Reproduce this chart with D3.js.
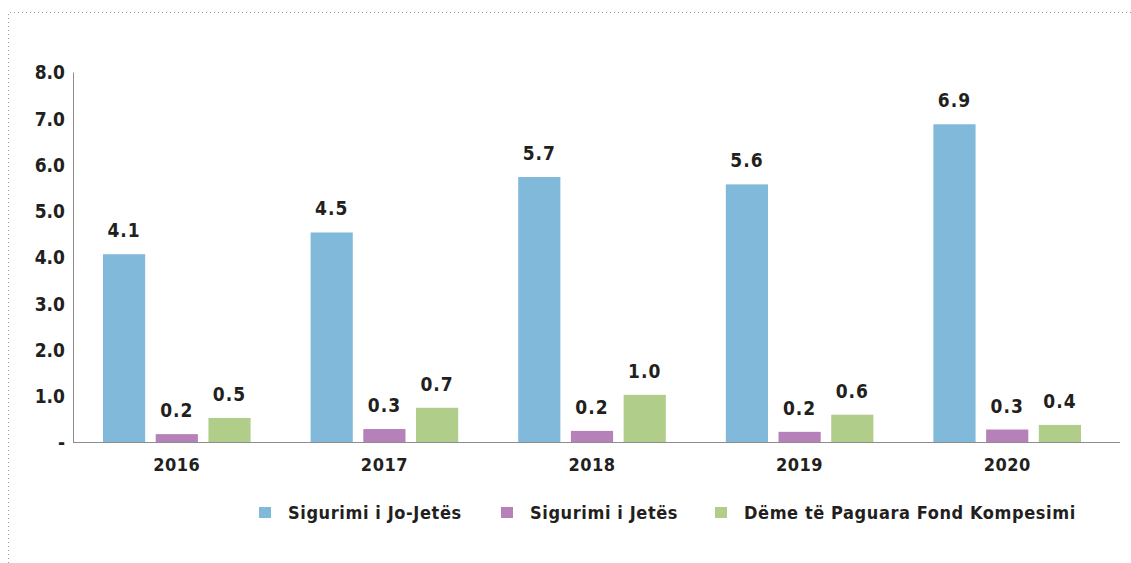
<!DOCTYPE html>
<html>
<head>
<meta charset="utf-8">
<script src="https://cdn.jsdelivr.net/npm/d3@7"></script>
<style>
  body { margin: 0; background: #fff; }
  text { font-family: "DejaVu Sans Condensed", "DejaVu Sans", sans-serif; font-weight: bold; fill: #231f20; }
</style>
</head>
<body>
<div id="chart"></div>
<script>
const years = ["2016", "2017", "2018", "2019", "2020"];
const seriesNames = ["Sigurimi i Jo-Jetës", "Sigurimi i Jetës", "Dëme të Paguara Fond Kompesimi"];
const nonLife = [4.06, 4.53, 5.73, 5.57, 6.87];
const life = [0.17, 0.28, 0.24, 0.22, 0.27];
const compensation = [0.52, 0.74, 1.02, 0.59, 0.37];
const yTicks = [0, 1, 2, 3, 4, 5, 6, 7, 8];
const colors = ["#80b9da", "#b680b9", "#b1cd8a"];

const width = 1131, height = 563;
const svg = d3.select("#chart").append("svg")
    .attr("width", width)
    .attr("height", height);

// dotted frame (only top and left visible)
svg.append("path")
    .attr("d", "M8.5,563 V12.5 H1131")
    .attr("fill", "none")
    .attr("stroke", "#999")
    .attr("stroke-width", 1)
    .attr("stroke-dasharray", "1,3");

const series = [nonLife, life, compensation];
const data = years.map((yr, i) => ({
    year: yr,
    values: series.map((s, k) => ({ key: k, value: s[i] }))
}));

const x0 = d3.scaleBand().domain(years).range([73, 1111]);
const x1 = d3.scaleBand().domain([0, 1, 2])
    .range([30, x0.bandwidth() - 30])
    .paddingInner(0.2);
const y = d3.scaleLinear().domain([0, 8]).range([442, 72]);

// y axis
const yAxis = d3.axisLeft(y)
    .tickValues(yTicks)
    .tickSize(0)
    .tickPadding(8)
    .tickFormat(d => d === 0 ? "-" : d3.format(".1f")(d));
const gy = svg.append("g").attr("transform", "translate(73,0)").call(yAxis);
gy.select(".domain").attr("stroke", "#8c8c8c");
gy.selectAll(".tick text")
    .attr("font-size", 19)
    .attr("font-family", null)
    .attr("dy", "0.36em");

// bars
const groups = svg.append("g").selectAll("g")
    .data(data)
    .join("g")
    .attr("transform", d => `translate(${x0(d.year)},0)`);

groups.selectAll("rect")
    .data(d => d.values)
    .join("rect")
    .attr("x", d => x1(d.key))
    .attr("width", x1.bandwidth())
    .attr("y", d => y(d.value))
    .attr("height", d => y(0) - y(d.value))
    .attr("fill", d => colors[d.key]);

groups.selectAll("text.val")
    .data(d => d.values)
    .join("text")
    .attr("class", "val")
    .attr("x", d => x1(d.key) + x1.bandwidth() / 2)
    .attr("y", d => y(d.value) - 17)
    .attr("text-anchor", "middle")
    .attr("font-size", 19)
    .attr("letter-spacing", 1)
    .text(d => d3.format(".1f")(d.value));

// x axis
const xAxis = d3.axisBottom(x0).tickSize(0).tickPadding(16);
const gx = svg.append("g").attr("transform", "translate(0,442)").call(xAxis);
gx.select(".domain").remove();
gx.selectAll(".tick text").attr("font-size", 18).attr("font-family", null).attr("letter-spacing", 0.5);
svg.append("line")
    .attr("x1", 73).attr("x2", 1120)
    .attr("y1", 442.5).attr("y2", 442.5)
    .attr("stroke", "#8c8c8c");

// legend
const legendX = [259, 501, 715];
const legend = svg.append("g").selectAll("g")
    .data(seriesNames)
    .join("g")
    .attr("transform", (d, i) => `translate(${legendX[i]},513)`);
legend.append("rect")
    .attr("x", 0).attr("y", -6)
    .attr("width", 12).attr("height", 11)
    .attr("fill", (d, i) => colors[i]);
legend.append("text")
    .attr("x", 29)
    .attr("dy", "0.35em")
    .attr("font-size", 18)
    .attr("letter-spacing", 0.6)
    .text(d => d);
</script>
</body>
</html>
